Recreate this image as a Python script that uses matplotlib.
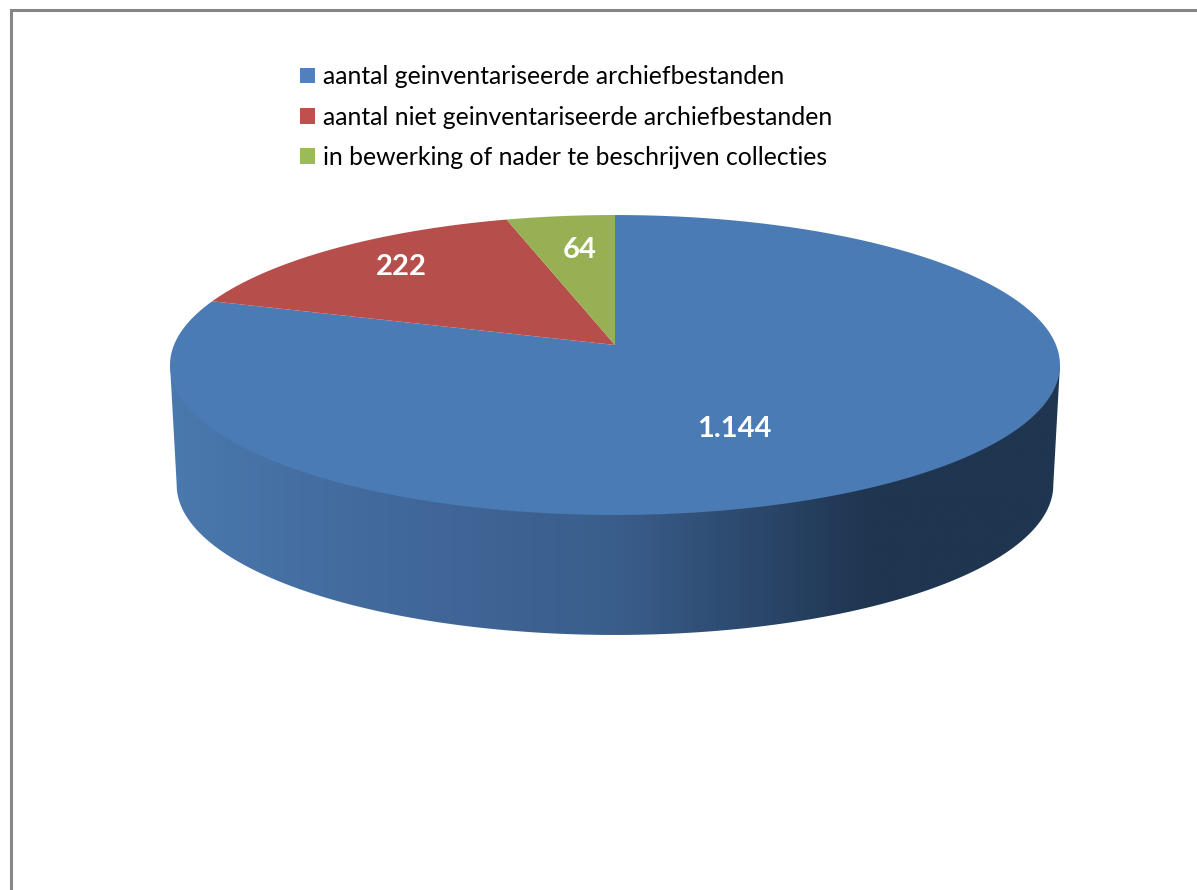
import numpy as np
import matplotlib
matplotlib.use('Agg')
import matplotlib.pyplot as plt
from matplotlib.colors import LinearSegmentedColormap
from matplotlib.patches import Patch, Polygon

categories = ['aantal geinventariseerde archiefbestanden',
              'aantal niet geinventariseerde archiefbestanden',
              'in bewerking of nader te beschrijven collecties']
values = [1144, 222, 64]
value_labels = ['1.144', '222', '64']
top_colors = ['#4a7bb5', '#b64e4b', '#97b054']
legend_colors = ['#4f81bd', '#c0504d', '#9bbb59']
label_pos = [(734, 429), (401, 267), (580, 250)]

# pie geometry in pixels, the tilted disc is a perspective view of a circle
CX, CY = 615, 345
RX, RY = 441, 147.3
K = 0.1333
DEPTH = 120
BOTTOM_SCALE = 0.985


def project(angle, scale=1.0, drop=0):
    u = np.sin(angle)
    v = np.cos(angle)
    d = 1 + K * v
    return CX + scale * RX * u / d, CY + drop - RY * v / d


plt.rcParams['font.family'] = ['Lato', 'DejaVu Sans']

fig = plt.figure(figsize=(11.97, 8.90), dpi=100)
ax = fig.add_axes([0, 0, 1, 1])
ax.set_xlim(0, 1197)
ax.set_ylim(890, 0)
ax.axis('off')

# chart frame, only top and left are in view
ax.plot([1197, 10.5, 10.5], [10, 10, 890], color='#868686', lw=2.2,
        solid_joinstyle='miter')

# side wall
t = np.linspace(0, 2 * np.pi, 720)
x_top, y_top = project(t)
x_bot, y_bot = project(t, BOTTOM_SCALE, DEPTH)
left = np.argmin(x_top)
right = np.argmax(x_top)
left_b = np.argmin(x_bot)
right_b = np.argmax(x_bot)
idx = np.arange(right_b, left_b + 1)
wall = np.column_stack([
    np.concatenate([[x_top[right]], x_bot[idx], [x_top[left]]]),
    np.concatenate([[y_top[right]], y_bot[idx], [y_top[left]]]),
])
wall_patch = Polygon(wall, closed=True, fc='none', ec='none')
ax.add_patch(wall_patch)
cmap = LinearSegmentedColormap.from_list('wall', [
    (0.0, '#4a79ae'), (0.2, '#436b9e'), (0.5, '#3a5e8c'),
    (0.79, '#1f3550'), (1.0, '#1f3550')])
im = ax.imshow(np.linspace(0, 1, 512).reshape(1, -1), cmap=cmap,
               extent=[170, 1060, 640, 360], aspect='auto', zorder=1)
im.set_clip_path(wall_patch)
ax.set_xlim(0, 1197)
ax.set_ylim(890, 0)

# top of the disc, slices clockwise from 12 o'clock
start = 0.0
total = sum(values)
for val, col in zip(values, top_colors):
    sweep = 2 * np.pi * val / total
    a = np.linspace(start, start + sweep, 400)
    xs, ys = project(a)
    ax.fill(np.r_[CX, xs], np.r_[CY, ys], color=col, lw=0, zorder=2)
    start += sweep

for txt, (x, y) in zip(value_labels, label_pos):
    ax.text(x, y, txt, color='white', fontsize=21, fontweight='bold',
            ha='center', va='center', zorder=3)

handles = [Patch(fc=c, ec='none') for c in legend_colors]
ax.legend(handles, categories, loc='upper left', bbox_to_anchor=(293 / 1197, 1 - 58 / 890),
          frameon=False, fontsize=17.85, handlelength=0.58, handleheight=0.58,
          handletextpad=0.34, labelspacing=0.69, borderpad=0.3, borderaxespad=0)

fig.savefig('out.png', dpi=100, facecolor='white')
